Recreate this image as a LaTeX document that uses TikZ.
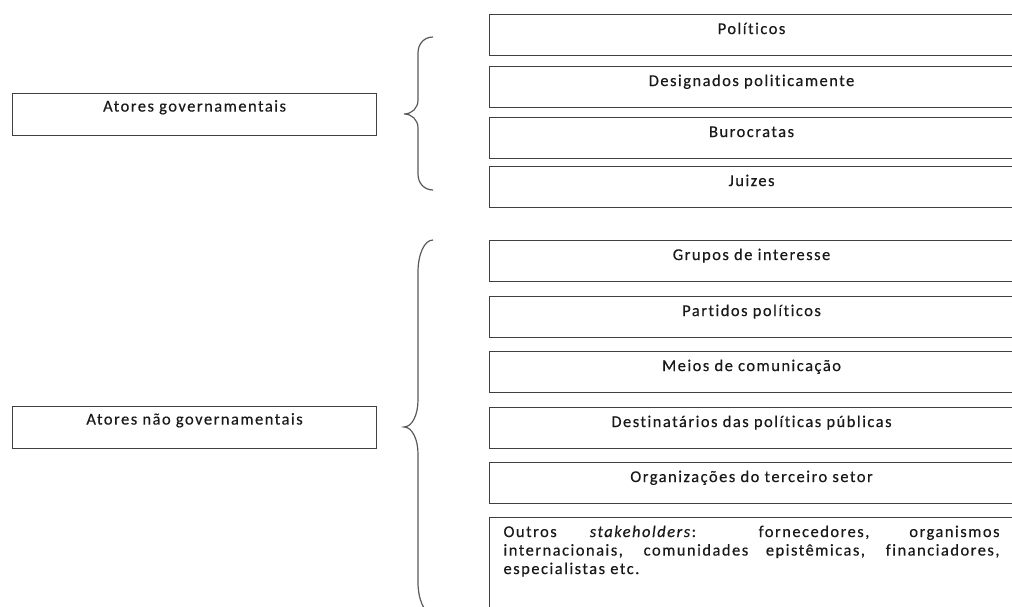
\documentclass[tikz,border=0pt]{standalone}
\usepackage{fontspec}
\setmainfont{Carlito}[LetterSpace=9,Ligatures={NoCommon},FakeBold=0.4]

\begin{document}
\begin{tikzpicture}[x=1pt,y=-1pt,
  box/.style={draw=black!75,line width=1.1pt,rectangle,anchor=north west,inner sep=0pt,
    minimum width=524pt,text height=19.5pt,text depth=21.5pt,
    font=\fontsize{16.5}{20}\selectfont,text=black!90},
  group/.style={box,minimum width=364pt,text height=18pt,text depth=24pt},
  brace/.style={draw=black!65,line width=1.2pt}]

  \useasboundingbox (0,0) rectangle (1012,607);

  % actor groups on the left
  \node[group] (gov) at (12,93) {Atores governamentais};
  \node[group] (ngov) at (12,406) {Atores não governamentais};

  % governmental actors
  \node[box] (pol) at (489,14) {Políticos};
  \node[box] (desig) at (489,66) {Designados politicamente};
  \node[box] (buro) at (489,117) {Burocratas};
  \node[box] (juiz) at (489,166) {Juizes};

  % non-governmental actors
  \node[box] (grupos) at (489,240) {Grupos de interesse};
  \node[box] (partidos) at (489,296) {Partidos políticos};
  \node[box] (meios) at (489,351) {Meios de comunicação};
  \node[box] (dest) at (489,407) {Destinatários das políticas públicas};
  \node[box] (org) at (489,462) {Organizações do terceiro setor};
  \node[box,inner xsep=14pt,text height=19.5pt,text depth=105pt] (outros) at (489,517) {
    \parbox[t]{496pt}{\fontsize{16.5}{18.5}\selectfont
      Outros \textit{stakeholders}: fornecedores, organismos\linebreak
      internacionais, comunidades epistêmicas, financiadores,\linebreak
      especialistas etc.}
  };

  % braces
  \path[brace] (433,37) .. controls (424,37) and (418,44) .. (418,53) -- (418,100)
    .. controls (418,108) and (412,114) .. (404,114)
    .. controls (412,114) and (418,120) .. (418,128) -- (418,174)
    .. controls (418,183) and (424,190) .. (433,190);
  \path[brace] (433,240) .. controls (424,240) and (418,255) .. (418,272) -- (418,400)
    .. controls (418,415) and (412,427) .. (404,427)
    .. controls (412,427) and (418,439) .. (418,454) -- (418,582)
    .. controls (418,599) and (424,614) .. (433,614);
\end{tikzpicture}
\end{document}
